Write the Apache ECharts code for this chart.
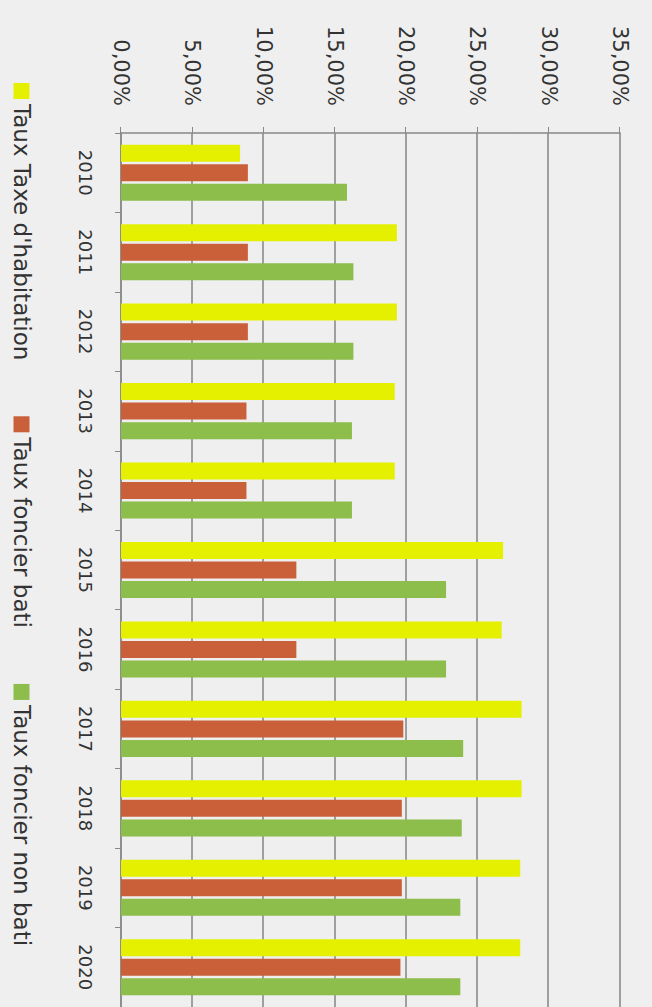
<!DOCTYPE html>
<html>
<head>
<meta charset="utf-8">
<script src="https://cdn.jsdelivr.net/npm/echarts@6/dist/echarts.min.js"></script>
<style>
  html, body { margin: 0; padding: 0; background: #efefef; overflow: hidden; width: 652px; height: 1007px; }
  #chart { position: absolute; left: 0; top: 0; width: 1007px; height: 652px;
           transform-origin: 0 0; transform: translate(652px, 0) rotate(90deg); }
</style>
</head>
<body>
<div id="chart"></div>
<script>
const years = ['2010','2011','2012','2013','2014','2015','2016','2017','2018','2019','2020'];
const tauxHabitation = [8.35, 19.35, 19.35, 19.2, 19.2, 26.8, 26.7, 28.1, 28.1, 28.0, 28.0];
const tauxFoncierBati = [8.9, 8.9, 8.9, 8.8, 8.8, 12.3, 12.3, 19.8, 19.7, 19.7, 19.6];
const tauxFoncierNonBati = [15.85, 16.3, 16.3, 16.2, 16.2, 22.8, 22.8, 24.0, 23.9, 23.8, 23.8];
const seriesNames = ["Taux Taxe d'habitation", 'Taux foncier bati', 'Taux foncier non bati'];
const colors = ['#e4f000', '#c9603a', '#8dbd4a'];

const chart = echarts.init(document.getElementById('chart'), null, { renderer: 'svg' });
const font = 'DejaVu Sans';
chart.setOption({
  backgroundColor: '#efefef',
  animation: false,
  color: colors,
  grid: { left: 133, right: -7, top: 32, bottom: 121 },
  legend: {
    left: 78, bottom: 5, itemWidth: 16, itemHeight: 16, itemGap: 56,
    icon: 'rect',
    textStyle: { fontFamily: font, fontSize: 23, color: '#333' },
    data: seriesNames
  },
  xAxis: {
    type: 'category', data: years,
    axisLine: { show: true, lineStyle: { color: '#888', width: 1.5 } },
    axisTick: { show: true, length: 6, lineStyle: { color: '#888' } },
    axisLabel: { fontFamily: font, fontSize: 18, color: '#333', margin: 27 }
  },
  yAxis: {
    type: 'value', min: 0, max: 35, interval: 5,
    axisLine: { show: true, lineStyle: { color: '#888', width: 1.5 } },
    axisTick: { show: true, length: 6, lineStyle: { color: '#888' } },
    splitLine: { show: true, lineStyle: { color: '#858585', width: 1.5 } },
    axisLabel: { fontFamily: font, fontSize: 21, color: '#333', margin: 27,
      formatter: v => v.toFixed(2).replace('.', ',') + '%' }
  },
  series: [
    { name: seriesNames[0], type: 'bar', data: tauxHabitation, barWidth: 17, barGap: '15%' },
    { name: seriesNames[1], type: 'bar', data: tauxFoncierBati, barWidth: 17, barGap: '15%' },
    { name: seriesNames[2], type: 'bar', data: tauxFoncierNonBati, barWidth: 17, barGap: '15%' }
  ]
});
</script>
</body>
</html>
